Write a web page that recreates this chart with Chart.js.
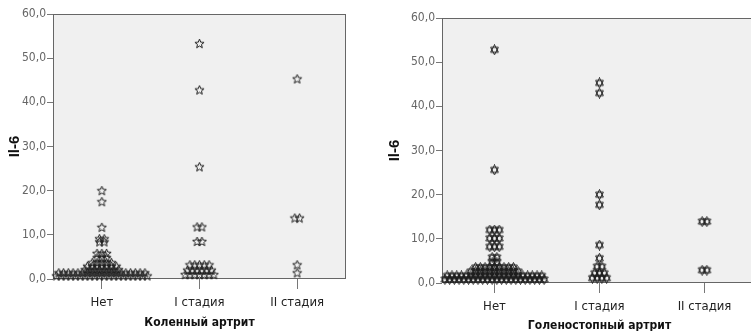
<!DOCTYPE html>
<html lang="ru">
<head>
    <meta charset="UTF-8">
    <title>Il-6: коленный и голеностопный артрит</title>
    <script src="https://cdn.jsdelivr.net/npm/chart.js"></script>
    <style>
    body, html {
        margin: 0;
        padding: 0;
        width: 751px;
        height: 331px;
        background: white;
        overflow: hidden;
    }
    .box {
        position: absolute;
        top: 0;
        height: 331px;
    }
    #knee-box { left: 0; width: 360px; }
    #ankle-box { left: 380px; width: 400px; }
</style>
</head>
<body>
<div id="knee-box" class="box"><canvas id="knee"></canvas></div>
<div id="ankle-box" class="box"><canvas id="ankle"></canvas></div>
<script>
    // categories and tick labels
    const categories = ['Нет', 'I стадия', 'II стадия'];
    const yTicks = [0, 10, 20, 30, 40, 50, 60];

    // Коленный артрит: value / how many cases at that value
    const kneeNoneVals = [0.7, 1.4, 2.1, 2.9, 3.7, 4.8, 5.8, 8.4, 9.1, 11.7, 17.5, 20.0];
    const kneeNoneCnt  = [20, 19, 8, 7, 5, 3, 3, 2, 2, 1, 1, 1];
    const kneeOneVals  = [1.0, 2.0, 3.2, 8.5, 11.8, 25.4, 42.8, 53.3];
    const kneeOneCnt   = [7, 6, 5, 2, 2, 1, 1, 1];
    const kneeTwoVals  = [1.4, 3.2, 13.8, 45.3];
    const kneeTwoCnt   = [1, 1, 2, 1];

    // Голеностопный артрит
    const ankleNoneVals = [0.8, 1.6, 2.6, 3.5, 4.6, 5.8, 8.2, 10.1, 12.0, 25.6, 52.8];
    const ankleNoneCnt  = [22, 21, 11, 9, 2, 2, 3, 3, 3, 1, 1];
    const ankleOneVals  = [1.1, 2.2, 3.7, 5.6, 8.6, 17.7, 20.0, 43.0, 45.3];
    const ankleOneCnt   = [4, 3, 2, 1, 1, 1, 1, 1, 1];
    const ankleTwoVals  = [2.9, 13.9];
    const ankleTwoCnt   = [2, 2];

    const FONT = '"Liberation Sans Narrow", "Arial Narrow", "DejaVu Sans Condensed", sans-serif';

    // equal values sit side by side around the category centre (dot plot)
    function stack(catIndex, vals, counts, step) {
        const pts = [];
        vals.forEach((v, k) => {
            const n = counts[k];
            for (let i = 0; i < n; i++) {
                pts.push({x: catIndex + (i - (n - 1) / 2) * step, y: v});
            }
        });
        return pts;
    }

    function makeMarker(kind) {
        const c = document.createElement('canvas');
        c.width = 11;
        c.height = 11;
        const g = c.getContext('2d');
        g.strokeStyle = '#1e1e1e';
        g.lineWidth = 1;
        g.beginPath();
        if (kind === 'star') {
            for (let i = 0; i < 10; i++) {
                const r = i % 2 ? 2.1 : 4.8;
                const a = -Math.PI / 2 + i * Math.PI / 5;
                const px = 5.5 + r * Math.cos(a), py = 5.8 + r * Math.sin(a);
                if (i === 0) g.moveTo(px, py); else g.lineTo(px, py);
            }
            g.closePath();
        } else {
            [-Math.PI / 2, Math.PI / 2].forEach(start => {
                for (let i = 0; i < 3; i++) {
                    const a = start + i * 2 * Math.PI / 3;
                    const px = 5.5 + 4.5 * Math.cos(a), py = 5.5 + 5 * Math.sin(a);
                    if (i === 0) g.moveTo(px, py); else g.lineTo(px, py);
                }
                g.closePath();
            });
        }
        g.stroke();
        return c;
    }

    const plotFrame = {
        id: 'plotFrame',
        beforeDatasetsDraw(chart) {
            const {ctx, chartArea: a} = chart;
            ctx.save();
            ctx.fillStyle = '#f0f0f0';
            ctx.fillRect(a.left, a.top, a.width, a.height);
            ctx.strokeStyle = '#666';
            ctx.lineWidth = 1;
            ctx.strokeRect(a.left + 0.5, a.top + 0.5, a.width - 1, a.height - 1);
            ctx.restore();
        }
    };

    function drawPlot(id, groups, marker, cfg) {
        const ctx = document.getElementById(id).getContext('2d');
        const datasets = groups.map((g, i) => ({
            data: stack(i, g[0], g[1], cfg.step),
            pointStyle: marker,
            pointRadius: 4,
            pointHoverRadius: 4,
            clip: false
        }));
        return new Chart(ctx, {
            type: 'scatter',
            data: {datasets: datasets},
            plugins: [plotFrame],
            options: {
                responsive: true,
                maintainAspectRatio: false,
                animation: false,
                events: [],
                layout: {padding: {top: cfg.top, right: cfg.right, left: 0, bottom: 0}},
                plugins: {legend: {display: false}, tooltip: {enabled: false}},
                scales: {
                    x: {
                        type: 'linear',
                        min: -0.5,
                        max: 2.5,
                        afterBuildTicks: axis => { axis.ticks = categories.map((c, i) => ({value: i})); },
                        afterFit: axis => { axis.height = cfg.xHeight; },
                        border: {display: false},
                        grid: {drawOnChartArea: false, drawTicks: true, tickLength: 10, color: '#777'},
                        ticks: {
                            padding: 6,
                            color: '#222',
                            font: {family: FONT, size: 13},
                            callback: v => categories[v]
                        },
                        title: {
                            display: true,
                            text: cfg.xTitle,
                            color: '#111',
                            font: {family: FONT, size: 12, weight: 'bold'},
                            padding: {top: 0, bottom: cfg.titleBottom}
                        }
                    },
                    y: {
                        min: 0,
                        max: 60,
                        afterBuildTicks: axis => { axis.ticks = yTicks.map(v => ({value: v})); },
                        afterFit: axis => { axis.width = cfg.yWidth; },
                        border: {display: false},
                        grid: {drawOnChartArea: false, drawTicks: true, tickLength: 6, color: '#777'},
                        ticks: {
                            padding: 1,
                            color: '#666',
                            font: {family: FONT, size: 12},
                            callback: v => v.toFixed(1).replace('.', ',')
                        },
                        title: {
                            display: true,
                            text: 'Il-6',
                            color: '#111',
                            font: {family: '"Liberation Sans", Arial, sans-serif', size: 15, weight: 'bold'},
                            padding: {top: 6, bottom: 0}
                        }
                    }
                }
            }
        });
    }

    drawPlot('knee', [
        [kneeNoneVals, kneeNoneCnt],
        [kneeOneVals, kneeOneCnt],
        [kneeTwoVals, kneeTwoCnt]
    ], makeMarker('star'), {
        top: 14, right: 14, yWidth: 53, xHeight: 52, step: 0.049,
        xTitle: 'Коленный артрит', titleBottom: 1
    });

    drawPlot('ankle', [
        [ankleNoneVals, ankleNoneCnt],
        [ankleOneVals, ankleOneCnt],
        [ankleTwoVals, ankleTwoCnt]
    ], makeMarker('hex'), {
        top: 18, right: 23, yWidth: 62, xHeight: 48, step: 0.045,
        xTitle: 'Голеностопный артрит', titleBottom: -2
    });
</script>
</body>
</html>
